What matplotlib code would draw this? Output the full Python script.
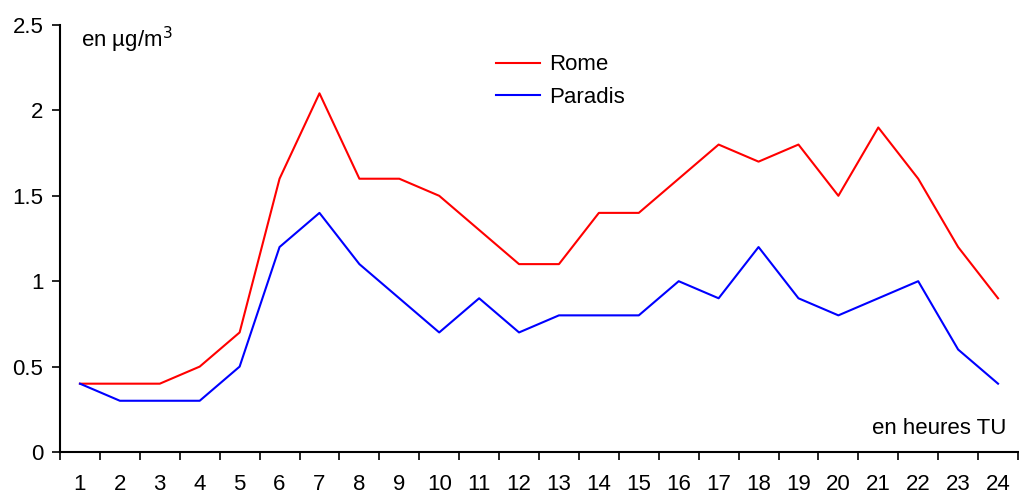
import matplotlib
matplotlib.use("Agg")
import matplotlib.pyplot as plt
from matplotlib.ticker import FixedLocator, NullFormatter, FixedFormatter

hours = [str(h) for h in range(1, 25)]
rome = [0.4, 0.4, 0.4, 0.5, 0.7, 1.6, 2.1, 1.6, 1.6, 1.5, 1.3, 1.1, 1.1, 1.4, 1.4, 1.6, 1.8, 1.7, 1.8, 1.5, 1.9, 1.6, 1.2, 0.9]
paradis = [0.4, 0.3, 0.3, 0.3, 0.5, 1.2, 1.4, 1.1, 0.9, 0.7, 0.9, 0.7, 0.8, 0.8, 0.8, 1.0, 0.9, 1.2, 0.9, 0.8, 0.9, 1.0, 0.6, 0.4]
yticks = [0, 0.5, 1, 1.5, 2, 2.5]
ylabels = ["0", "0.5", "1", "1.5", "2", "2.5"]

plt.rcParams['font.family'] = ['Liberation Sans', 'DejaVu Sans']
FS = 16
fig = plt.figure(figsize=(10.19, 4.95), dpi=100)
ax = fig.add_axes([60/1019, 1-452/495, 958/1019, (452-25)/495])

x = list(range(len(hours)))
ax.plot(x, rome, color='#ff0000', lw=1.5, label='Rome')
ax.plot(x, paradis, color='#0000ff', lw=1.5, label='Paradis')

ax.set_xlim(-0.5, len(hours) - 0.5)
ax.set_ylim(0, 2.5)
ax.set_yticks(yticks)
ax.set_yticklabels(ylabels)
ax.xaxis.set_major_locator(FixedLocator([i - 0.5 for i in range(len(hours) + 1)]))
ax.xaxis.set_major_formatter(NullFormatter())
ax.xaxis.set_minor_locator(FixedLocator(x))
ax.xaxis.set_minor_formatter(FixedFormatter(hours))
ax.tick_params(axis='x', which='major', direction='out', length=6, width=1.2)
ax.tick_params(axis='x', which='minor', length=0, pad=16, labelsize=FS)
ax.tick_params(axis='y', direction='out', length=6, width=1.2, labelsize=FS, pad=6)

for s in ['top', 'right']:
    ax.spines[s].set_visible(False)
for s in ['left', 'bottom']:
    ax.spines[s].set_linewidth(1.5)

ax.text(0.022, 1.0, 'en µg/m$^3$', transform=ax.transAxes, fontsize=FS, va='top', ha='left')
ax.text(0.988, 0.03, 'en heures TU', transform=ax.transAxes, fontsize=FS, va='bottom', ha='right')

leg = ax.legend(loc='upper left', bbox_to_anchor=(0.434, 0.978), frameon=False, fontsize=FS,
                handlelength=2.0, handletextpad=0.4, labelspacing=0.5)

fig.savefig('out.png', dpi=100)
